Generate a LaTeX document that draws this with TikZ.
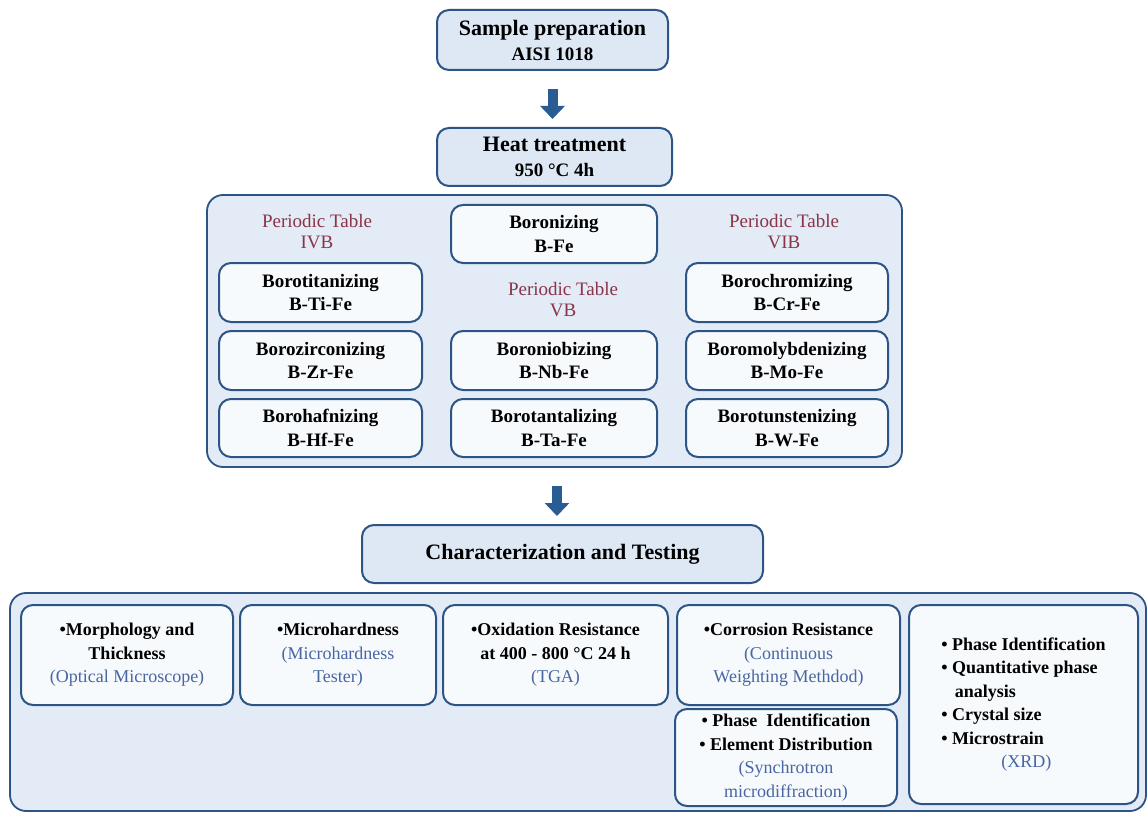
\documentclass[tikz,border=0pt]{standalone}
\usepackage{fontspec}
\setmainfont{Liberation Serif}
\usetikzlibrary{arrows.meta}
\definecolor{bordc}{RGB}{44,84,132}
\definecolor{grpfill}{RGB}{226,235,246}
\definecolor{boxfill}{RGB}{247,250,253}
\definecolor{headfill}{RGB}{222,232,245}
\definecolor{ptred}{RGB}{138,52,72}
\definecolor{bluet}{RGB}{72,102,162}
\definecolor{arrc}{RGB}{42,92,148}
\newcommand{\bluetxt}[1]{{\mdseries\color{bluet}#1}}
\begin{document}
\begin{tikzpicture}[x=0.5pt,y=-0.5pt,
 bx/.style 2 args={minimum width=#1*0.5pt, minimum height=#2*0.5pt},
 sbox/.style={draw=bordc, line width=1pt, rounded corners=6pt, fill=boxfill, align=center, inner sep=0pt, font=\bfseries\fontsize{9.5}{11.7}\selectfont},
 tbox/.style={sbox, font=\bfseries\fontsize{9}{11.7}\selectfont},
 hbox/.style={sbox, fill=headfill, font=\bfseries\fontsize{11}{11.5}\selectfont},
 grp/.style={draw=bordc, line width=0.9pt, rounded corners=8pt, fill=grpfill, inner sep=0pt},
 ptlab/.style={text=ptred, align=center, font=\fontsize{9.5}{10.5}\selectfont},
 blk/.style={draw=arrc, line width=5pt, -{Triangle[width=12pt,length=6.5pt]}}
]
\clip (0,0) rectangle (1147,813);
\fill[white] (0,0) rectangle (1147,813);

% headers
\node[hbox, bx={231}{60}] (sample) at (552.5,40) {Sample preparation\\[1pt]{\fontsize{9.5}{11}\selectfont AISI 1018}};
\node[hbox, bx={235}{58}] (heat) at (554.5,157) {Heat treatment\\[1pt]{\fontsize{9.5}{11}\selectfont 950 °C 4h}};

% top group
\node[grp, bx={695}{272}] (grpTop) at (554.5,331) {};
\node[ptlab] (ptIVB) at (317,232) {Periodic Table\\IVB};
\node[ptlab] (ptVB) at (563,300) {Periodic Table\\VB};
\node[ptlab] (ptVIB) at (784,232) {Periodic Table\\VIB};
\node[sbox, bx={206}{58}] (bfe) at (554,234) {Boronizing\\B-Fe};
\node[sbox, bx={203}{59}] (ti) at (320.5,292.5) {Borotitanizing\\B-Ti-Fe};
\node[sbox, bx={203}{59}] (zr) at (320.5,360.5) {Borozirconizing\\B-Zr-Fe};
\node[sbox, bx={203}{58}] (hf) at (320.5,428) {Borohafnizing\\B-Hf-Fe};
\node[sbox, bx={206}{59}] (nb) at (554,360.5) {Boroniobizing\\B-Nb-Fe};
\node[sbox, bx={206}{58}] (ta) at (554,428) {Borotantalizing\\B-Ta-Fe};
\node[sbox, bx={202}{59}] (cr) at (787,292.5) {Borochromizing\\B-Cr-Fe};
\node[sbox, bx={202}{59}] (mo) at (787,360.5) {Boromolybdenizing\\B-Mo-Fe};
\node[sbox, bx={202}{58}] (w) at (787,428) {Borotunstenizing\\B-W-Fe};

% characterization
\node[hbox, bx={401}{58}] (char) at (562.5,554) {Characterization and Testing};

% bottom group
\node[grp, bx={1136}{218}] (grpBot) at (578,702) {};
\node[tbox, bx={212}{100}] (morph) at (127,655) {•Morphology and\\Thickness\\\bluetxt{(Optical Microscope)}};
\node[tbox, bx={196}{100}] (mh) at (338,655) {•Microhardness\\\bluetxt{(Microhardness}\\\bluetxt{Tester)}};
\node[tbox, bx={225}{100}] (ox) at (555.5,655) {•Oxidation Resistance\\at 400 - 800 °C 24 h\\\bluetxt{(TGA)}};
\node[tbox, bx={223}{100}] (cor) at (788.5,655) {•Corrosion Resistance\\\bluetxt{(Continuous}\\\bluetxt{Weighting Methdod)}};
\node[tbox, bx={222}{97}] (syn) at (786,757.5) {• Phase~ Identification\\• Element Distribution\\\bluetxt{(Synchrotron}\\\bluetxt{microdiffraction)}};
\node[tbox, bx={229}{199}, align=left] (xrd) at (1023.5,704.5) {• Phase Identification\\• Quantitative phase\\\hspace*{0.75em}analysis\\• Crystal size\\• Microstrain\\\hspace*{30pt}\bluetxt{(XRD)}};

% arrows
\draw[blk, shorten <=9pt, shorten >=4pt] (sample.south) -- (sample.south |- heat.north);
\draw[blk, shorten <=9pt, shorten >=4pt] ([xshift=-2.75pt]char.north |- grpTop.south) -- ([xshift=-2.75pt]char.north);
\end{tikzpicture}
\end{document}
